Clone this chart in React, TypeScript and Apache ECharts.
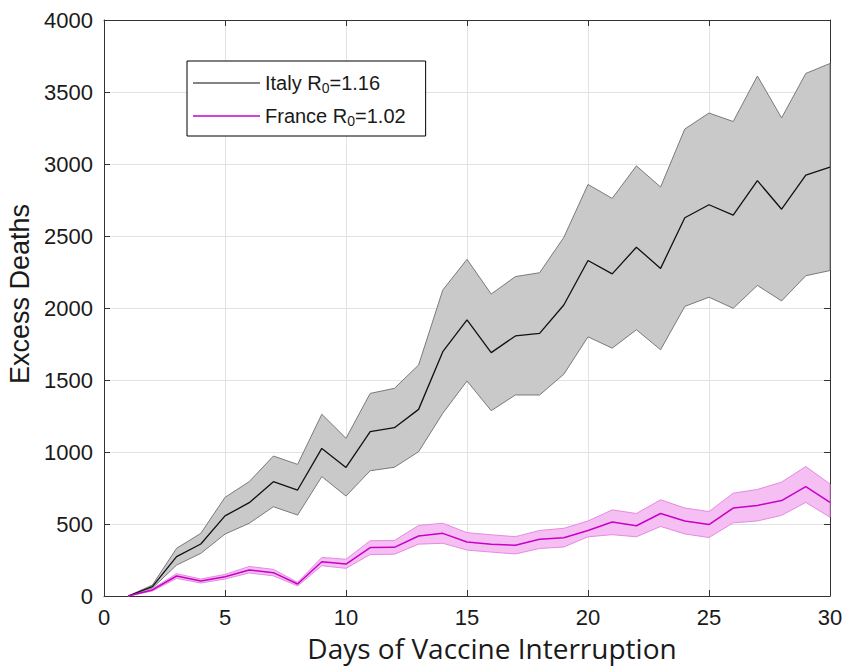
import React, { useEffect, useRef } from "react";
import * as echarts from "echarts";

const days = [1, 2, 3, 4, 5, 6, 7, 8, 9, 10, 11, 12, 13, 14, 15, 16, 17, 18, 19, 20, 21, 22, 23, 24, 25, 26, 27, 28, 29, 30];
const italyMean = [0, 65, 273, 361, 556, 648, 794, 736, 1025, 893, 1141, 1169, 1296, 1697, 1917, 1690, 1806, 1824, 2021, 2330, 2237, 2422, 2275, 2627, 2717, 2645, 2884, 2686, 2922, 2979];
const italyUpper = [0, 76, 331, 435, 685, 794, 972, 914, 1262, 1095, 1407, 1442, 1604, 2125, 2338, 2097, 2218, 2245, 2490, 2858, 2761, 2987, 2840, 3243, 3354, 3295, 3611, 3320, 3629, 3698];
const italyLower = [0, 55, 215, 296, 430, 505, 620, 562, 829, 694, 870, 894, 1002, 1269, 1493, 1287, 1396, 1396, 1540, 1800, 1721, 1849, 1710, 2011, 2075, 1998, 2157, 2049, 2224, 2260];
const franceMean = [0, 42, 139, 104, 134, 180, 162, 83, 238, 222, 336, 338, 417, 435, 375, 359, 352, 394, 405, 455, 514, 488, 573, 521, 496, 611, 629, 663, 760, 650];
const franceUpper = [0, 50, 155, 118, 150, 205, 185, 95, 268, 255, 384, 385, 490, 505, 440, 425, 412, 455, 470, 521, 598, 573, 668, 611, 586, 714, 740, 791, 899, 778];
const franceLower = [0, 35, 122, 90, 118, 160, 140, 70, 210, 192, 288, 290, 360, 366, 319, 305, 292, 330, 340, 411, 426, 411, 483, 431, 406, 508, 521, 560, 650, 547];

const ITALY = "Italy R0=1.16";
const FRANCE = "France R0=1.02";

function bandSeries(name: string, upper: number[], lower: number[], fill: string, stroke: string) {
  return {
    name,
    type: "custom",
    data: [[days[0], lower[0]]],
    z: 1,
    silent: true,
    renderItem: (params: any, api: any) => {
      if (params.dataIndex !== 0) return null;
      const top = upper.map((v, i) => api.coord([days[i], v]));
      const bottom = lower.map((v, i) => api.coord([days[i], v])).reverse();
      return {
        type: "polygon",
        shape: { points: [...top, ...bottom] },
        style: { fill, stroke, lineWidth: 1 },
      };
    },
  };
}

export default function App() {
  const ref = useRef<HTMLDivElement>(null);
  useEffect(() => {
    if (!ref.current) return;
    const chart = echarts.init(ref.current, undefined, { renderer: "svg" });
    const axisColor = "#333333";
    const font = "'Liberation Sans', Arial, sans-serif";
    chart.setOption({
      animation: false,
      backgroundColor: "#ffffff",
      grid: { left: 104, right: 16, top: 20, bottom: 73, containLabel: false, outerBoundsMode: "none" },
      legend: {
        left: 187,
        top: 61,
        orient: "vertical",
        backgroundColor: "#ffffff",
        borderColor: "#000000",
        borderWidth: 1,
        borderRadius: 0,
        padding: [10, 20, 8, 6],
        itemGap: 9,
        itemWidth: 67,
        itemHeight: 1.5,
        data: [
          { name: ITALY, icon: "rect", itemStyle: { color: "#5a5a5a" } },
          { name: FRANCE, icon: "rect", itemStyle: { color: "#c800c8" } },
        ],
        formatter: (name: string) =>
          name === ITALY ? "{a|Italy R}{sub|0}{a|=1.16}" : "{a|France R}{sub|0}{a|=1.02}",
        textStyle: {
          fontFamily: font,
          fontSize: 20,
          color: "#1a1a1a",
          rich: {
            a: { fontFamily: font, fontSize: 20, color: "#1a1a1a", lineHeight: 24 },
            sub: { fontFamily: font, fontSize: 14, color: "#1a1a1a", padding: [10, 0, 0, 0], lineHeight: 24 },
          },
        },
      },
      xAxis: [
        {
          type: "value",
          min: 0,
          max: 30,
          interval: 5,
          position: "bottom",
          name: "Days of Vaccine Interruption",
          nameLocation: "middle",
          nameGap: 38,
          nameTextStyle: { fontFamily: "'Open Sans', sans-serif", fontSize: 28, color: "#1a1a1a", padding: [0, 0, 0, 50] },
          axisLine: { onZero: false, lineStyle: { color: axisColor, width: 1 } },
          axisTick: { inside: true, length: 6, lineStyle: { color: axisColor } },
          axisLabel: { fontFamily: font, fontSize: 22, color: "#1a1a1a", margin: 10 },
          splitLine: { show: true, lineStyle: { color: "#e2e2e2", width: 1 } },
        },
        {
          type: "value",
          min: 0,
          max: 30,
          interval: 5,
          position: "top",
          axisLine: { onZero: false, lineStyle: { color: axisColor, width: 1 } },
          axisTick: { inside: true, length: 6, lineStyle: { color: axisColor } },
          axisLabel: { show: false },
          splitLine: { show: false },
        },
      ],
      yAxis: [
        {
          type: "value",
          min: 0,
          max: 4000,
          interval: 500,
          position: "left",
          name: "Excess Deaths",
          nameLocation: "middle",
          nameGap: 67,
          nameTextStyle: { fontFamily: font, fontSize: 27, color: "#1a1a1a", padding: [0, 0, 0, 28] },
          axisLine: { show: true, onZero: false, lineStyle: { color: axisColor, width: 1 } },
          axisTick: { show: true, inside: true, length: 6, lineStyle: { color: axisColor } },
          axisLabel: { fontFamily: font, fontSize: 22, color: "#1a1a1a", margin: 11, formatter: (v: number) => String(v) },
          splitLine: { show: true, lineStyle: { color: "#e2e2e2", width: 1 } },
        },
        {
          type: "value",
          min: 0,
          max: 4000,
          interval: 500,
          position: "right",
          axisLine: { show: true, onZero: false, lineStyle: { color: axisColor, width: 1 } },
          axisTick: { show: true, inside: true, length: 6, lineStyle: { color: axisColor } },
          axisLabel: { show: false },
          splitLine: { show: false },
        },
      ],
      series: [
        bandSeries("Italy band", italyUpper, italyLower, "#c9c9c9", "#7a7a7a"),
        bandSeries("France band", franceUpper, franceLower, "#f6bff3", "#e58ae0"),
        {
          name: ITALY,
          type: "line",
          data: days.map((d, i) => [d, italyMean[i]]),
          showSymbol: false,
          z: 3,
          lineStyle: { color: "#111111", width: 1.3 },
          itemStyle: { color: "#111111" },
        },
        {
          name: FRANCE,
          type: "line",
          data: days.map((d, i) => [d, franceMean[i]]),
          showSymbol: false,
          z: 3,
          lineStyle: { color: "#c800c8", width: 1.5 },
          itemStyle: { color: "#c800c8" },
        },
      ],
    });
    return () => chart.dispose();
  }, []);
  return <div ref={ref} style={{ width: 846, height: 669, position: "absolute", left: 0, top: 0 }} />;
}
